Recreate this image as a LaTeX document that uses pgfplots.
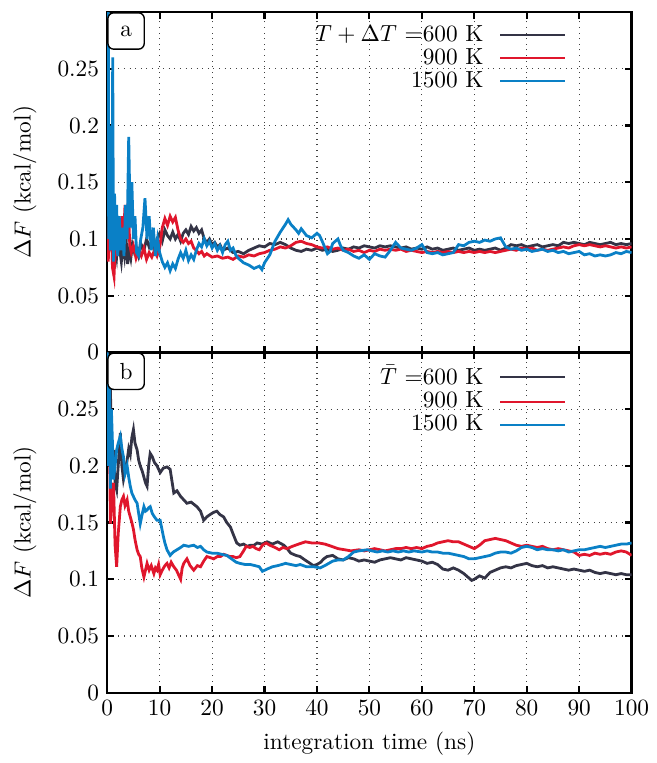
\documentclass[border=0pt]{standalone}
\usepackage{pgfplots}
\pgfplotsset{compat=1.18}
\definecolor{cdark}{RGB}{52,52,70}
\definecolor{cred}{RGB}{224,22,44}
\definecolor{cblue}{RGB}{10,128,198}
\pgfplotsset{
  panel/.style={
    width=225pt, height=146pt, scale only axis,
    xmin=0, xmax=100, ymin=0, ymax=0.3,
    xtick={0,10,...,100},
    ytick={0,0.05,0.1,0.15,0.2,0.25},
    yticklabel style={/pgf/number format/fixed,/pgf/number format/precision=2},
    scaled y ticks=false,
    xtick pos=both, ytick pos=both,
    tick align=inside,
    major tick length=2.8pt,
    every tick/.style={black, line width=0.9pt},
    axis line style={line width=1pt},
    grid=major,
    grid style={dotted, black!75, line width=0.5pt},
    ylabel={$\Delta F$ (kcal/mol)},
    ylabel style={at={(axis description cs:-0.157,0.5)}, anchor=center},
    legend style={draw=none, fill=none, at={(axis description cs:0.89,0.99)}, anchor=north east, row sep=-2.4pt},
    legend cell align=right,
    legend plot pos=right,
    legend image code/.code={\path (0pt,0pt); \draw[#1, line width=0.9pt] (4.5pt,0pt) -- (32.5pt,0pt);},
    every axis plot/.append style={line width=1.2pt, mark=none},
  }
}
\begin{document}
\begin{tikzpicture}
\begin{axis}[panel, name=top, xticklabels={}]
\addplot[cdark] coordinates {
(0,0.10)(0.2,0.13)(0.4,0.09)(0.6,0.15)(0.8,0.11)(1.0,0.08)(1.2,0.12)(1.5,0.095)(1.8,0.085)(2.1,0.105)(2.4,0.09)(2.7,0.08)(3.0,0.095)(3.3,0.085)(3.6,0.1)(3.9,0.078)(4.2,0.09)(4.5,0.083)(4.8,0.095)(5.2,0.088)(5.6,0.092)(6.0,0.085)(6.5,0.095)(7.0,0.09)(7.5,0.1)(8.0,0.093)(8.5,0.098)(9.0,0.09)(9.5,0.1)(10,0.105)(10.5,0.098)(11,0.108)(11.5,0.103)(12,0.1)(12.5,0.106)(13,0.1)(13.5,0.104)(14,0.098)(14.5,0.105)(15,0.108)(15.5,0.104)(16,0.111)(16.5,0.107)(17,0.11)(17.5,0.105)(18,0.108)(18.5,0.1)(19,0.097)(19.5,0.1)(20,0.095)(20.5,0.097)(21,0.093)(21.5,0.095)(22,0.09)(23,0.092)(24,0.088)(25,0.089)(26,0.087)(27,0.09)(28,0.092)(29,0.094)(30,0.093)(31,0.096)(32,0.095)(33,0.097)(34,0.095)(35,0.092)(36,0.09)(37,0.089)(38,0.091)(39,0.09)(40,0.092)(41,0.09)(42,0.091)(43,0.089)(44,0.09)(45,0.092)(46,0.091)(47,0.093)(48,0.092)(49,0.094)(50,0.093)(51,0.092)(52,0.094)(53,0.093)(54,0.094)(55,0.093)(56,0.092)(57,0.093)(58,0.091)(59,0.092)(60,0.091)(61,0.093)(62,0.091)(63,0.092)(64,0.09)(65,0.091)(66,0.092)(67,0.09)(68,0.091)(69,0.092)(70,0.09)(71,0.091)(72,0.09)(73,0.091)(74,0.092)(75,0.09)(76,0.092)(77,0.095)(78,0.094)(79,0.095)(80,0.093)(81,0.094)(82,0.095)(83,0.093)(84,0.094)(85,0.095)(86,0.094)(87,0.097)(88,0.096)(89,0.097)(90,0.096)(91,0.095)(92,0.097)(93,0.096)(94,0.095)(95,0.096)(96,0.097)(97,0.095)(98,0.096)(99,0.095)(100,0.096)
};
\addlegendentry{$T+\Delta T$ =600 K}
\addplot[cred] coordinates {
(0,0.1)(0.2,0.08)(0.4,0.11)(0.6,0.09)(0.8,0.12)(1.0,0.075)(1.3,0.067)(1.6,0.1)(1.9,0.085)(2.2,0.11)(2.5,0.095)(2.8,0.12)(3.1,0.1)(3.4,0.13)(3.7,0.1)(4.0,0.132)(4.3,0.095)(4.6,0.088)(5.0,0.094)(5.5,0.083)(6.0,0.09)(6.5,0.085)(7.0,0.092)(7.5,0.082)(8.0,0.088)(8.5,0.084)(9.0,0.09)(9.5,0.085)(10.0,0.092)(10.5,0.11)(11.0,0.118)(11.5,0.112)(12.0,0.12)(12.5,0.115)(13.0,0.119)(13.5,0.108)(14,0.1)(14.5,0.097)(15,0.1)(15.5,0.096)(16,0.098)(16.5,0.092)(17,0.09)(17.5,0.087)(18,0.089)(18.5,0.085)(19,0.087)(20,0.084)(21,0.085)(22,0.083)(23,0.084)(24,0.082)(25,0.085)(26,0.084)(27,0.086)(28,0.085)(29,0.087)(30,0.088)(31,0.09)(32,0.091)(33,0.093)(34,0.092)(35,0.094)(36,0.097)(37,0.098)(38,0.096)(39,0.095)(40,0.093)(41,0.092)(42,0.093)(43,0.091)(44,0.092)(45,0.09)(46,0.091)(47,0.089)(48,0.09)(49,0.088)(50,0.09)(51,0.089)(52,0.091)(53,0.09)(54,0.091)(55,0.09)(56,0.091)(57,0.089)(58,0.09)(59,0.089)(60,0.088)(61,0.089)(62,0.088)(63,0.089)(64,0.088)(65,0.089)(66,0.088)(67,0.089)(68,0.088)(69,0.089)(70,0.088)(71,0.089)(72,0.088)(73,0.089)(74,0.088)(75,0.089)(76,0.09)(77,0.091)(78,0.09)(79,0.092)(80,0.091)(81,0.092)(82,0.09)(83,0.091)(84,0.09)(85,0.091)(86,0.092)(87,0.093)(88,0.092)(89,0.094)(90,0.095)(91,0.094)(92,0.095)(93,0.094)(94,0.093)(95,0.094)(96,0.093)(97,0.092)(98,0.093)(99,0.092)(100,0.093)
};
\addlegendentry{900 K}
\addplot[cblue] coordinates {
(0,0.3)(0.1,0.12)(0.2,0.31)(0.3,0.1)(0.45,0.2)(0.6,0.09)(0.75,0.16)(0.9,0.11)(1.05,0.26)(1.2,0.08)(1.4,0.14)(1.6,0.09)(1.8,0.13)(2.0,0.085)(2.3,0.12)(2.6,0.09)(2.9,0.11)(3.2,0.085)(3.5,0.13)(3.8,0.1)(4.1,0.19)(4.4,0.11)(4.7,0.15)(5.0,0.1)(5.3,0.12)(5.6,0.088)(6.0,0.085)(6.4,0.1)(6.8,0.11)(7.2,0.136)(7.6,0.1)(8.0,0.12)(8.4,0.09)(8.8,0.11)(9.2,0.085)(9.6,0.1)(10.0,0.088)(10.5,0.08)(11.0,0.075)(11.5,0.079)(12,0.072)(12.5,0.078)(13,0.074)(13.5,0.082)(14,0.088)(14.5,0.083)(15,0.09)(15.5,0.081)(16,0.086)(16.5,0.082)(17,0.09)(17.5,0.096)(18,0.093)(18.5,0.1)(19,0.094)(19.5,0.098)(20,0.092)(20.5,0.096)(21,0.09)(21.5,0.094)(22,0.088)(22.5,0.095)(23,0.098)(23.5,0.09)(24,0.092)(24.5,0.086)(25,0.083)(26,0.079)(27,0.077)(28,0.074)(29,0.076)(29.5,0.073)(30,0.079)(31,0.086)(32,0.098)(33,0.106)(34,0.113)(34.5,0.117)(35,0.113)(36,0.108)(36.5,0.105)(37,0.109)(38,0.103)(39,0.101)(40,0.105)(40.5,0.103)(41,0.098)(42,0.087)(42.5,0.089)(43,0.096)(44,0.1)(44.5,0.094)(45,0.09)(46,0.088)(47,0.085)(48,0.083)(49,0.086)(50,0.082)(51,0.087)(52,0.085)(53,0.084)(54,0.09)(55,0.097)(56,0.092)(57,0.091)(58,0.09)(59,0.092)(60,0.095)(61,0.088)(62,0.087)(63,0.088)(64,0.086)(65,0.087)(66,0.088)(67,0.095)(68,0.094)(69,0.097)(70,0.098)(71,0.097)(72,0.099)(73,0.098)(74,0.1)(75,0.101)(76,0.093)(77,0.091)(78,0.092)(79,0.09)(80,0.091)(81,0.089)(82,0.09)(83,0.091)(84,0.089)(85,0.09)(86,0.088)(87,0.089)(88,0.087)(89,0.088)(90,0.089)(91,0.086)(92,0.087)(93,0.085)(94,0.086)(95,0.085)(96,0.086)(97,0.088)(98,0.087)(99,0.089)(100,0.088)
};
\addlegendentry{1500 K}
\node[draw, fill=white, rounded corners=2.5pt, line width=0.6pt, minimum width=15.6pt, minimum height=15.6pt, inner sep=0pt, anchor=north west] at (axis description cs:0,1) {a};
\end{axis}
\begin{axis}[panel, name=bot, at={(top.south west)}, anchor=north west, xlabel={integration time (ns)}]
\addplot[cdark] coordinates {
(0,0.3)(0.3,0.24)(0.6,0.27)(0.9,0.2)(1.2,0.214)(1.5,0.185)(1.8,0.179)(2.1,0.2)(2.5,0.229)(2.8,0.2)(3.1,0.188)(3.4,0.195)(3.8,0.205)(4.1,0.215)(4.4,0.21)(4.7,0.225)(5.0,0.232)(5.3,0.22)(5.7,0.214)(6.0,0.205)(6.3,0.2)(6.7,0.195)(7.0,0.19)(7.3,0.185)(7.6,0.182)(7.9,0.2)(8.2,0.211)(8.6,0.208)(9.0,0.203)(9.5,0.2)(10.1,0.194)(10.7,0.198)(11.4,0.199)(12,0.197)(12.7,0.176)(13.3,0.178)(14,0.173)(14.6,0.17)(15.2,0.167)(16,0.168)(17.1,0.164)(17.8,0.16)(18.4,0.152)(19,0.155)(19.6,0.157)(20.3,0.159)(20.9,0.16)(21.5,0.157)(22.2,0.155)(22.8,0.15)(23.5,0.146)(24,0.14)(24.7,0.132)(25.3,0.13)(26,0.131)(26.7,0.129)(27.3,0.13)(28,0.13)(28.6,0.132)(29.5,0.131)(30.5,0.133)(31.5,0.131)(32.5,0.133)(33.7,0.13)(34.3,0.127)(35,0.123)(36,0.121)(36.8,0.12)(37.7,0.117)(38.7,0.114)(39.3,0.112)(40,0.113)(40.7,0.115)(41.3,0.118)(41.9,0.12)(43,0.121)(44,0.118)(45,0.117)(46,0.119)(47,0.118)(48,0.116)(49,0.117)(50,0.116)(51,0.115)(52,0.117)(53,0.118)(54,0.119)(55,0.118)(56,0.117)(57,0.119)(58,0.118)(59,0.117)(60,0.116)(61,0.114)(62,0.115)(63,0.113)(64,0.109)(65,0.108)(66,0.11)(67,0.108)(68,0.105)(69,0.101)(69.5,0.099)(70,0.1)(71,0.103)(72,0.101)(73,0.106)(74,0.108)(75,0.11)(76,0.111)(77,0.11)(78,0.112)(79,0.113)(80,0.114)(81,0.112)(82,0.111)(83,0.112)(84,0.11)(85,0.111)(86,0.11)(87,0.109)(88,0.108)(89,0.109)(90,0.108)(91,0.107)(92,0.108)(93,0.106)(94,0.105)(95,0.106)(96,0.105)(97,0.104)(98,0.105)(99,0.104)(100,0.104)
};
\addlegendentry{$\bar{T}$ =600 K}
\addplot[cred] coordinates {
(0,0.27)(0.2,0.2)(0.4,0.25)(0.6,0.149)(0.9,0.17)(1.2,0.185)(1.5,0.13)(1.8,0.111)(2.1,0.14)(2.5,0.164)(2.8,0.17)(3.1,0.173)(3.4,0.165)(3.8,0.17)(4.1,0.16)(4.4,0.155)(4.7,0.15)(5.0,0.144)(5.3,0.135)(5.7,0.126)(6.0,0.122)(6.3,0.12)(6.6,0.11)(7.0,0.102)(7.3,0.108)(7.6,0.114)(8.0,0.108)(8.4,0.112)(8.9,0.105)(9.2,0.11)(9.5,0.108)(9.8,0.113)(10.1,0.104)(10.5,0.108)(11,0.112)(11.4,0.114)(11.8,0.11)(12.2,0.115)(12.7,0.111)(13.2,0.108)(13.6,0.104)(14,0.1)(14.3,0.11)(14.6,0.114)(15.2,0.118)(15.8,0.112)(16.5,0.108)(17.2,0.112)(17.8,0.111)(18.4,0.116)(19,0.12)(19.7,0.119)(20.3,0.118)(21,0.12)(21.6,0.12)(22.2,0.122)(22.8,0.121)(23.4,0.12)(24,0.12)(24.6,0.119)(25.3,0.12)(26,0.125)(26.5,0.129)(27.2,0.128)(27.8,0.129)(28.4,0.127)(29,0.126)(29.6,0.13)(30.3,0.132)(31,0.13)(32,0.128)(32.8,0.126)(33.5,0.128)(34.3,0.127)(35.3,0.129)(36.5,0.131)(37.8,0.133)(39,0.132)(40.3,0.132)(41.5,0.131)(42.8,0.129)(44,0.127)(45.3,0.126)(46.5,0.125)(48,0.126)(49,0.125)(50,0.126)(51,0.127)(52,0.126)(53,0.125)(54,0.126)(55,0.127)(56,0.127)(57,0.128)(58,0.127)(59,0.128)(60,0.127)(61,0.129)(62,0.13)(63,0.132)(64,0.133)(65,0.134)(66,0.133)(67,0.133)(68,0.131)(69,0.129)(70,0.127)(71,0.13)(72,0.134)(73,0.135)(74,0.136)(75,0.135)(76,0.134)(77,0.132)(78,0.13)(79,0.129)(80,0.13)(81,0.129)(82,0.128)(83,0.129)(84,0.127)(85,0.126)(86,0.127)(87,0.126)(88,0.125)(89,0.124)(90,0.121)(91,0.122)(92,0.121)(93,0.123)(94,0.122)(95,0.123)(96,0.122)(97,0.124)(98,0.125)(99,0.124)(100,0.121)
};
\addlegendentry{900 K}
\addplot[cblue] coordinates {
(0,0.3)(0.2,0.2)(0.4,0.28)(0.6,0.18)(0.8,0.25)(1.0,0.22)(1.2,0.188)(1.5,0.2)(1.8,0.214)(2.1,0.22)(2.5,0.226)(2.8,0.215)(3.1,0.208)(3.4,0.193)(3.8,0.2)(4.1,0.19)(4.4,0.182)(4.7,0.176)(5.0,0.173)(5.3,0.17)(5.7,0.167)(6.0,0.158)(6.3,0.149)(6.7,0.158)(7.0,0.164)(7.3,0.16)(7.6,0.161)(7.9,0.163)(8.2,0.164)(8.6,0.158)(9.0,0.155)(9.5,0.152)(10.1,0.152)(10.4,0.145)(10.7,0.138)(11,0.132)(11.4,0.126)(12,0.121)(12.6,0.124)(13.3,0.126)(14,0.128)(14.6,0.13)(15.5,0.129)(16.5,0.13)(17.2,0.128)(17.8,0.129)(18.4,0.126)(19,0.124)(20,0.123)(20.9,0.123)(21.8,0.122)(22.8,0.121)(23.4,0.119)(24,0.117)(24.6,0.115)(25.3,0.114)(26.3,0.113)(27.3,0.113)(28.2,0.112)(29,0.111)(29.6,0.107)(30.5,0.109)(31.5,0.111)(32.5,0.112)(33.3,0.113)(34,0.114)(35,0.113)(36,0.112)(36.8,0.113)(38,0.111)(39.4,0.111)(40.6,0.11)(41.5,0.112)(43,0.116)(44,0.117)(45,0.117)(46,0.12)(47,0.124)(48,0.125)(49.6,0.126)(50.5,0.125)(51.5,0.124)(52.5,0.125)(53.5,0.124)(54.5,0.125)(55.5,0.124)(56.5,0.125)(57.5,0.124)(58.5,0.125)(60,0.124)(61,0.125)(62,0.124)(63,0.124)(64,0.123)(65,0.123)(66,0.122)(67,0.121)(68,0.12)(69,0.118)(70,0.118)(71,0.119)(72,0.12)(73,0.121)(74,0.123)(75,0.124)(76,0.124)(77,0.123)(78,0.125)(79,0.128)(80,0.129)(81,0.128)(82,0.126)(83,0.127)(84,0.126)(85,0.126)(86,0.125)(87,0.126)(88,0.124)(89,0.125)(90,0.126)(91,0.126)(92,0.127)(93,0.128)(94,0.129)(95,0.128)(96,0.129)(97,0.13)(98,0.131)(99,0.131)(100,0.132)
};
\addlegendentry{1500 K}
\node[draw, fill=white, rounded corners=2.5pt, line width=0.6pt, minimum width=15.6pt, minimum height=15.6pt, inner sep=0pt, anchor=north west] at (axis description cs:0,1) {b};
\end{axis}
\path (top.north east) ++(7pt,5.2pt);
\path (top.north west) ++(-46pt,0pt);
\end{tikzpicture}
\end{document}
